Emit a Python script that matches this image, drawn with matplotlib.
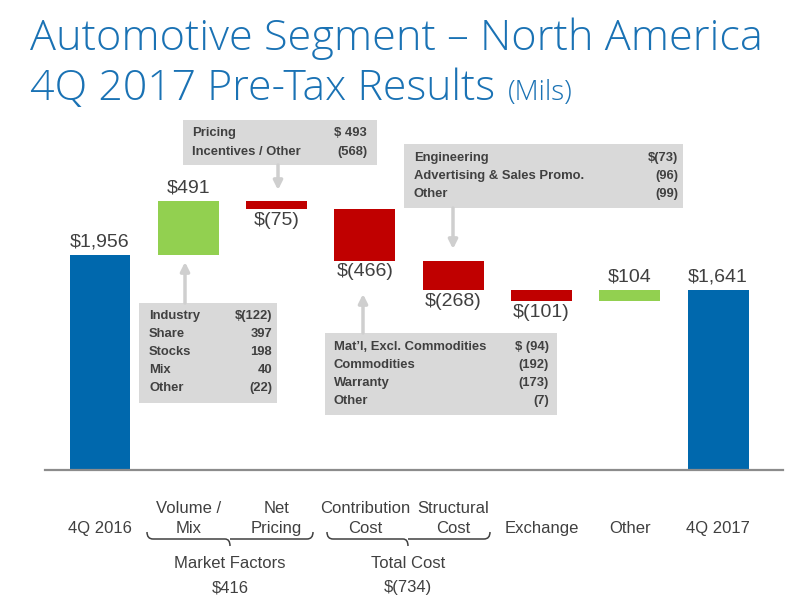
import matplotlib
matplotlib.use("Agg")
import matplotlib.pyplot as plt
from matplotlib.patches import Rectangle, PathPatch
from matplotlib.path import Path

# waterfall data (millions)
categories = ["4Q 2016", "Volume /\nMix", "Net\nPricing", "Contribution\nCost",
              "Structural\nCost", "Exchange", "Other", "4Q 2017"]
values = [1956, 491, -75, -466, -268, -101, 104, 1641]
value_labels = ["$1,956", "$491", "$(75)", "$(466)", "$(268)", "$(101)", "$104", "$1,641"]
is_total = [True, False, False, False, False, False, False, True]

group_names = ["Market Factors", "Total Cost"]
group_values = ["$416", "$(734)"]

pricing_items = ["Pricing", "Incentives / Other"]
pricing_vals = ["$ 493", "(568)"]
volume_items = ["Industry", "Share", "Stocks", "Mix", "Other"]
volume_vals = ["$(122)", "397", "198", "40", "(22)"]
contrib_items = ["Mat\u2019l, Excl. Commodities", "Commodities", "Warranty", "Other"]
contrib_vals = ["$ (94)", "(192)", "(173)", "(7)"]
struct_items = ["Engineering", "Advertising & Sales Promo.", "Other"]
struct_vals = ["$(73)", "(96)", "(99)"]

BLUE = "#0068ad"
GREEN = "#92d050"
RED = "#c00000"
TITLE = "#1a72b4"
TXT = "#404040"
BOXC = "#d9d9d9"
ARROWC = "#cfcfcf"

plt.rcParams["font.family"] = ["Liberation Sans", "DejaVu Sans"]

W, H = 809, 613
fig = plt.figure(figsize=(W / 100, H / 100), dpi=100)
ax = fig.add_axes([0, 0, 1, 1])

# pixel layout of the slide -> data coords
PX0, DX = 100, 88.3     # centre of first bar, bar spacing (px)
PY0, SY = 470, 0.1099   # baseline (px), px per $M
def X(px):
    return (px - PX0) / DX
def Y(py):
    return (PY0 - py) / SY

ax.set_xlim(X(0), X(W))
ax.set_ylim(Y(H), Y(0))
ax.axis("off")

# bars
running = 0
bottoms, heights, colors = [], [], []
for v, tot in zip(values, is_total):
    if tot:
        bottoms.append(0)
        heights.append(v)
        colors.append(BLUE)
        running = v
    else:
        bottoms.append(running + min(v, 0))
        heights.append(abs(v))
        colors.append(GREEN if v > 0 else RED)
        running += v
xs = list(range(len(values)))
ax.bar(xs, heights, bottom=bottoms, width=0.69, color=colors, zorder=2)

ax.plot([X(45), X(783)], [0, 0], color="#8c8c8c", lw=1.6, zorder=3)

# value labels
for i, (v, tot) in enumerate(zip(values, is_total)):
    if tot or v > 0:
        ax.annotate(value_labels[i], (i, bottoms[i] + heights[i]), xytext=(0, 3),
                    textcoords="offset points", ha="center", va="bottom",
                    fontsize=14, color=TXT)
    else:
        ax.annotate(value_labels[i], (i, bottoms[i]), xytext=(0, -2),
                    textcoords="offset points", ha="center", va="top",
                    fontsize=14, color=TXT)

# category labels (baseline of last line aligned)
for i, c in enumerate(categories):
    ax.text(i, Y(533), c, ha="center", va="baseline", fontsize=12, color=TXT,
            linespacing=1.45)

# braces with group totals
def brace(x0, x1, xm, ytop, ymid, ytip):
    verts = [(X(x0), Y(ytop)), (X(x0), Y(ymid)), (X(x0 + 6), Y(ymid)),
             (X(xm - 5), Y(ymid)), (X(xm), Y(ymid)), (X(xm), Y(ytip)),
             (X(xm), Y(ymid)), (X(xm + 5), Y(ymid)),
             (X(x1 - 6), Y(ymid)), (X(x1), Y(ymid)), (X(x1), Y(ytop))]
    codes = [Path.MOVETO, Path.CURVE3, Path.CURVE3, Path.LINETO, Path.CURVE3, Path.CURVE3,
             Path.MOVETO, Path.LINETO, Path.LINETO, Path.CURVE3, Path.CURVE3]
    ax.add_patch(PathPatch(Path(verts, codes), fill=False, edgecolor=TXT, lw=1.1))

brace(147, 313, 230, 532, 539, 546)
brace(327, 490, 408, 532, 539, 546)
for name, val, xm in zip(group_names, group_values, [230, 408]):
    ax.text(X(xm), Y(568), name, ha="center", va="baseline", fontsize=12, color=TXT)
    ax.text(X(xm), Y(592), val, ha="center", va="baseline", fontsize=12, color=TXT)

# detail boxes
def detail_box(x0, y0, x1, y1, tl, tr, ty, dy, items, vals):
    ax.add_patch(Rectangle((X(x0), Y(y1)), X(x1) - X(x0), Y(y0) - Y(y1),
                           facecolor=BOXC, edgecolor="none", zorder=1))
    for k, (a, b) in enumerate(zip(items, vals)):
        ax.text(X(tl), Y(ty + k * dy), a, ha="left", va="center", fontsize=9.4,
                fontweight="bold", color=TXT, zorder=4)
        ax.text(X(tr), Y(ty + k * dy), b, ha="right", va="center", fontsize=9.4,
                fontweight="bold", color=TXT, zorder=4)

def arrow(px, y_from, y_to):
    ax.annotate("", xy=(X(px), Y(y_to)), xytext=(X(px), Y(y_from)),
                arrowprops=dict(arrowstyle="-|>", color=ARROWC, lw=2.5,
                                mutation_scale=13, shrinkA=0, shrinkB=0), zorder=1)

detail_box(183, 120, 377, 165, 192, 367, 133, 19.5, pricing_items, pricing_vals)
arrow(278, 165, 190)
detail_box(404, 144, 683, 208, 414, 678, 158, 18, struct_items, struct_vals)
arrow(453, 208, 249)
detail_box(139, 303, 277, 403, 149, 272, 316, 18, volume_items, volume_vals)
arrow(185, 303, 262)
detail_box(325, 333, 557, 415, 334, 549, 347, 18, contrib_items, contrib_vals)
arrow(363, 333, 294)

# title
renderer = fig.canvas.get_renderer()
def fit(t, width_px):
    w = t.get_window_extent(renderer).width
    t.set_fontsize(t.get_fontsize() * width_px / w)

t1 = fig.text(30 / W, 1 - 50 / H, "Automotive Segment \u2013 North America",
              ha="left", va="baseline", color=TITLE, fontsize=30,
              family=["Open Sans", "DejaVu Sans"], fontweight="light")
fit(t1, 733)
t2 = fig.text(30 / W, 1 - 100 / H, "4Q 2017 Pre-Tax Results",
              ha="left", va="baseline", color=TITLE, fontsize=30,
              family=["Open Sans", "DejaVu Sans"], fontweight="light")
fit(t2, 465)
t3 = fig.text(508 / W, 1 - 100 / H, "(Mils)",
              ha="left", va="baseline", color=TITLE, fontsize=15,
              family=["Open Sans", "DejaVu Sans"], fontweight="light")
fit(t3, 65)

fig.savefig("out.png", dpi=100)
